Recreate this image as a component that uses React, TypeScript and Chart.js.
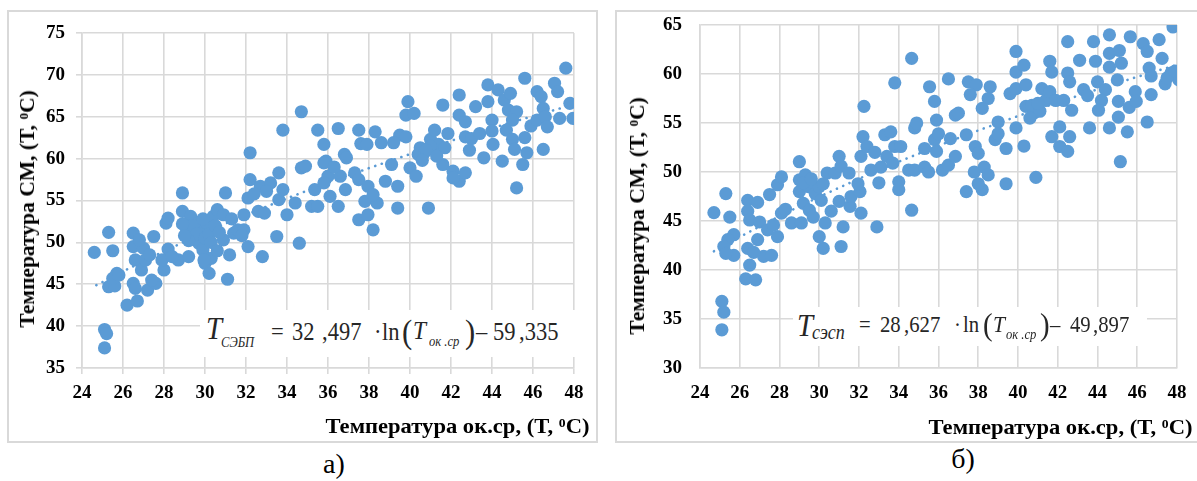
import React, { useEffect, useRef } from "react";
import { Chart, registerables } from "chart.js";

Chart.register(...registerables);

// ---------- data ----------
const xTicks = [24, 26, 28, 30, 32, 34, 36, 38, 40, 42, 44, 46, 48];
const aYTicks = [35, 40, 45, 50, 55, 60, 65, 70, 75];
const bYTicks = [30, 35, 40, 45, 50, 55, 60, 65];

// chart а) : ambient temperature vs СЭБП temperature
const aTemp = [
  24.6, 25.3, 25.5, 25.1, 25.2, 25.1, 25.3, 25.6, 25.7, 25.5, 25.8, 26.2, 26.7, 26.5, 26.5, 26.6, 26.5, 26.6, 26.9, 27.1,
  27.5, 27.2, 27.6, 27.4, 28.0, 28.1, 28.2, 28.2, 27.9, 28.7, 29.2, 28.9, 28.9, 29.1, 29.3, 29.7, 29.8, 29.5, 29.7, 29.9,
  30.0, 30.2, 30.3, 29.95, 30.1, 30.4, 30.6, 30.9, 30.9, 31.1, 31.2, 31.0, 31.4, 31.6, 31.9, 32.1, 31.9, 32.1, 32.2, 32.2,
  32.6, 32.9, 32.8, 32.7, 33.2, 33.5, 33.6, 33.6, 33.8, 34.0, 33.8, 34.4, 34.6, 34.7, 34.9, 34.7, 35.2, 35.35, 35.5, 35.5,
  35.8, 35.9, 29.4, 29.6, 30.0, 30.2, 30.5, 29.9, 30.3, 29.2, 28.9, 29.0, 30.7, 27.0, 26.8, 27.3, 28.4, 31.3, 32.4, 33.0,
  31.8, 30.6, 35.8, 36.0, 35.8, 36.1, 36.5, 36.6, 36.85, 36.5, 36.8, 36.9, 37.5, 37.6, 37.9, 38.3, 38.6, 37.3, 37.5, 37.95,
  37.8, 38.4, 38.2, 37.5, 37.95, 38.2, 39.1, 38.8, 39.4, 39.4, 39.9, 39.8, 40.2, 39.5, 39.8, 40.0, 40.3, 40.5, 40.9, 40.4,
  40.7, 41.0, 41.2, 41.6, 41.4, 41.7, 41.85, 41.6, 42.1, 42.4, 42.1, 42.4, 42.4, 42.7, 43.2, 42.7, 43.0, 43.4, 43.6, 42.7,
  43.8, 43.8, 44.0, 44.0, 44.05, 44.5, 44.3, 44.6, 44.9, 44.8, 45.2, 45.0, 44.7, 45.0, 45.1, 45.2, 45.6, 45.6, 45.7, 45.5,
  45.9, 46.2, 46.2, 46.4, 46.5, 46.6, 46.7, 46.5, 47.05, 47.2, 47.3, 47.6, 47.8, 47.95, 41.0, 40.8, 41.3, 42.9, 39.2, 36.3,
  40.6,
];
const aSM = [
  48.8, 51.2, 49.0, 39.6, 39.1, 37.4, 44.7, 44.8, 46.3, 45.7, 46.1, 42.5, 43.0, 51.1, 49.5, 47.9, 45.1, 44.5, 46.7, 47.9,
  50.7, 44.3, 45.1, 45.5, 46.7, 52.3, 52.9, 49.2, 47.9, 47.9, 48.3, 55.9, 53.7, 51.5, 53.1, 52.3, 51.5, 50.7, 49.9, 49.1,
  47.5, 46.3, 48.1, 47.9, 52.3, 53.1, 53.9, 53.3, 50.3, 45.6, 48.5, 55.9, 51.1, 51.5, 51.5, 49.5, 53.3, 55.3, 57.5, 60.7,
  53.7, 53.5, 48.3, 56.7, 57.1, 50.7, 58.3, 55.1, 56.3, 53.3, 63.4, 54.7, 49.9, 58.9, 59.1, 65.6, 54.3, 56.3, 54.3, 63.4,
  61.7, 59.7, 52.0, 51.0, 50.5, 51.0, 52.0, 52.8, 50.0, 50.2, 52.2, 50.8, 51.2, 49.3, 50.3, 48.5, 48.3, 52.8, 55.8, 56.1,
  50.8, 49.0, 59.5, 57.9, 57.1, 55.5, 54.3, 57.9, 56.3, 63.6, 60.5, 60.1, 63.4, 61.8, 61.7, 63.2, 61.9, 58.3, 57.5, 56.7,
  54.9, 54.7, 55.7, 52.7, 53.3, 51.5, 59.3, 57.3, 56.7, 54.1, 66.8, 65.2, 65.4, 62.8, 62.6, 58.9, 57.9, 61.3, 54.1, 60.5,
  60.7, 62.3, 63.4, 66.4, 61.7, 61.3, 63.0, 59.3, 58.5, 57.3, 57.7, 67.6, 65.2, 64.4, 66.2, 62.6, 62.4, 63.0, 60.1, 58.3,
  68.8, 66.8, 64.6, 63.3, 61.7, 59.7, 68.2, 67.0, 67.8, 65.8, 65.6, 64.6, 63.4, 62.3, 61.1, 56.5, 69.6, 62.5, 60.7, 59.3,
  63.9, 64.6, 68.0, 67.4, 66.0, 65.0, 63.8, 61.1, 69.0, 68.0, 64.8, 70.8, 66.6, 64.8, 61.5, 61.0, 60.3, 61.0, 61.9, 59.0,
  59.8,
];

// chart б) : ambient temperature vs СЭСП temperature
const bTemp = [
  24.7, 25.3, 25.5, 25.7, 25.4, 25.2, 25.7, 25.3, 25.1, 25.2, 25.1, 26.3, 26.8, 26.5, 26.4, 26.9, 26.4, 26.5, 27.0, 27.4,
  26.9, 26.4, 27.2, 27.6, 27.5, 27.9, 28.1, 28.1, 28.6, 27.9, 29.0, 29.0, 29.3, 29.0, 29.2, 29.1, 29.5, 29.7, 29.45, 29.8,
  30.0, 30.1, 30.4, 30.3, 30.0, 30.2, 30.8, 31.0, 31.1, 31.5, 31.0, 31.2, 31.1, 31.55, 31.6, 32.05, 32.1, 31.95, 32.25, 32.2,
  32.1, 32.4, 32.6, 32.9, 33.0, 33.3, 33.6, 33.4, 33.7, 33.8, 34.0, 34.0, 34.1, 33.8, 34.65, 34.65, 34.8, 34.9, 34.5, 34.8,
  35.3, 35.5, 35.3, 35.55, 35.8, 35.9, 35.8, 35.9, 29.2, 29.6, 30.2, 28.3, 27.7, 26.7, 30.6, 32.8, 33.1, 36.0, 36.2, 36.5,
  36.85, 36.6, 36.85, 37.0, 36.5, 37.5, 37.9, 37.6, 38.6, 38.5, 38.2, 39.0, 38.85, 39.4, 39.0, 37.4, 37.85, 38.0, 37.8, 38.3,
  38.5, 37.4, 38.2, 38.0, 39.4, 40.3, 40.9, 39.9, 39.9, 39.9, 40.3, 39.6, 39.9, 40.4, 40.4, 40.8, 40.7, 41.2, 41.4, 41.1,
  41.6, 41.7, 41.6, 41.9, 42.1, 41.7, 42.1, 42.5, 42.5, 42.5, 42.6, 42.3, 42.7, 42.6, 43.1, 43.3, 43.6, 43.8, 43.9, 44.0,
  44.4, 44.6, 44.6, 44.2, 44.05, 44.6, 44.6, 45.1, 45.2, 45.0, 45.15, 45.05, 45.05, 45.6, 45.5, 45.65, 45.9, 45.95, 46.3, 46.5,
  46.6, 46.7, 46.5, 46.7, 47.1, 47.25, 47.4, 47.7, 47.8, 48.1, 41.0, 40.6, 43.5, 47.5, 47.9,
];
const bSM = [
  45.85, 47.8, 45.4, 43.6, 43.1, 42.4, 41.5, 41.7, 36.8, 35.7, 33.9, 39.1, 39.0, 40.5, 47.1, 46.9, 46.0, 45.1, 44.9, 44.1,
  43.1, 42.2, 41.4, 41.5, 47.7, 48.7, 49.5, 45.8, 44.8, 43.4, 51.05, 49.2, 49.7, 48.0, 46.8, 44.8, 46.1, 45.4, 48.5, 47.8,
  48.5, 47.1, 49.9, 44.8, 43.4, 42.2, 49.9, 51.6, 50.6, 49.9, 47.0, 44.4, 42.4, 46.5, 47.5, 48.0, 45.8, 48.8, 56.7, 53.6,
  51.6, 52.6, 50.2, 44.4, 48.9, 53.8, 54.1, 51.6, 50.9, 52.6, 49.0, 48.2, 52.6, 59.1, 61.6, 46.1, 54.5, 55.0, 50.2, 50.2,
  50.5, 50.0, 52.4, 58.7, 57.2, 55.3, 53.3, 52.1, 48.9, 49.3, 48.8, 46.2, 44.6, 41.8, 46.0, 52.0, 50.5, 53.9, 50.2, 50.7,
  51.6, 53.4, 55.8, 56.0, 59.5, 59.2, 58.9, 57.9, 58.7, 57.5, 56.5, 55.1, 53.3, 52.4, 53.9, 53.8, 52.6, 51.9, 50.0, 50.5,
  49.7, 48.0, 48.2, 48.8, 48.8, 52.65, 49.45, 54.5, 62.3, 60.2, 60.9, 58.0, 58.5, 58.9, 56.7, 56.0, 56.8, 58.5, 57.3, 56.2,
  61.3, 60.2, 58.2, 57.3, 54.6, 53.6, 52.6, 52.1, 63.3, 60.1, 59.2, 57.3, 56.3, 53.6, 61.4, 58.4, 54.5, 63.3, 61.3, 59.2,
  58.4, 62.1, 64.0, 57.3, 56.3, 54.5, 60.7, 62.4, 61.1, 59.4, 51.05, 57.2, 55.6, 56.6, 54.1, 63.8, 58.2, 57.2, 63.1, 62.3,
  60.6, 59.8, 55.1, 57.9, 63.5, 61.6, 59.0, 60.1, 64.8, 59.4, 57.0, 55.5, 57.8, 59.6, 60.3,
];

// logarithmic trend lines (dotted)
const trendTemp = [24.7, 26, 28, 30, 32, 34, 36, 38, 40, 42, 44, 46, 48];
const aTrend = [44.88, 46.54, 48.95, 51.19, 53.29, 55.26, 57.12, 58.87, 60.54, 62.13, 63.64, 65.08, 66.47];
const bTrend = [41.91, 43.37, 45.5, 47.47, 49.32, 51.05, 52.69, 54.24, 55.71, 57.1, 58.43, 59.71, 60.93];

// ---------- presentation ----------
const BLUE = "#5B9BD5";
const GRID = "#d9d9d9";
const SERIF = "'Liberation Serif', 'Times New Roman', 'DejaVu Serif', serif";

type PanelProps = {
  temp: number[];
  sm: number[];
  trend: number[];
  yTicks: number[];
  left: number;
  top: number;
  width: number;
  height: number;
  yAxisWidth: number;
  xAxisHeight: number;
  padTop: number;
  padRight: number;
  tickLen: number;
  yPad: number;
  xPad: number;
};

function ScatterPanel(p: PanelProps) {
  const ref = useRef<HTMLCanvasElement | null>(null);
  useEffect(() => {
    if (!ref.current) return;
    const tickFont = { family: SERIF, size: 19, weight: "bold" as const };
    const chart = new Chart(ref.current, {
      type: "scatter",
      data: {
        datasets: [
          {
            data: p.temp.map((x, i) => ({ x, y: p.sm[i] })),
            backgroundColor: BLUE,
            borderColor: BLUE,
            pointRadius: 6.6,
            pointBorderWidth: 0,
            pointHoverRadius: 6.6,
          },
          {
            data: trendTemp.map((x, i) => ({ x, y: p.trend[i] })),
            showLine: true,
            borderColor: BLUE,
            borderWidth: 2.6,
            borderDash: [0.1, 6.8],
            borderCapStyle: "round",
            pointRadius: 0,
            fill: false,
          } as any,
        ],
      },
      options: {
        animation: false,
        responsive: false,
        devicePixelRatio: 1,
        layout: { padding: { top: p.padTop, right: p.padRight, left: 0, bottom: 0 } },
        plugins: { legend: { display: false }, tooltip: { enabled: false } },
        scales: {
          x: {
            type: "linear",
            min: xTicks[0],
            max: xTicks[xTicks.length - 1],
            afterBuildTicks: (s: any) => {
              s.ticks = xTicks.map((v) => ({ value: v }));
            },
            afterFit: (s: any) => {
              s.height = p.xAxisHeight;
              s.paddingLeft = 0;
              s.paddingRight = 0;
            },
            grid: { color: GRID, lineWidth: 1.6, drawTicks: p.tickLen > 0, tickLength: p.tickLen },
            border: { color: GRID, width: 1.6 },
            ticks: { font: tickFont, color: "#000", padding: p.xPad, maxRotation: 0, autoSkip: false },
          },
          y: {
            type: "linear",
            min: p.yTicks[0],
            max: p.yTicks[p.yTicks.length - 1],
            afterBuildTicks: (s: any) => {
              s.ticks = p.yTicks.map((v) => ({ value: v }));
            },
            afterFit: (s: any) => {
              s.width = p.yAxisWidth;
              s.paddingTop = 0;
              s.paddingBottom = 0;
            },
            grid: { color: GRID, lineWidth: 1.6, drawTicks: p.tickLen > 0, tickLength: p.tickLen },
            border: { color: GRID, width: 1.6 },
            ticks: { font: tickFont, color: "#000", padding: p.yPad, autoSkip: false },
          },
        },
      },
    });
    return () => chart.destroy();
  }, []);
  return (
    <canvas
      ref={ref}
      width={p.width}
      height={p.height}
      style={{ position: "absolute", left: p.left, top: p.top, width: p.width, height: p.height }}
    />
  );
}

const titleStyle: React.CSSProperties = {
  position: "absolute",
  fontFamily: SERIF,
  fontWeight: "bold",
  fontSize: 21.5,
  color: "#000",
  whiteSpace: "nowrap",
  lineHeight: "24px",
};

function Deg() {
  return <sup style={{ fontSize: 13, verticalAlign: "top", position: "relative", top: -3 }}>0</sup>;
}

// a piece of the regression equation: [text, x, baseline, size, italic]
type Piece = [string, number, number, number, boolean];

function Equation(props: { left: number; top: number; width: number; height: number; pieces: Piece[] }) {
  return (
    <div
      style={{
        position: "absolute",
        left: props.left,
        top: props.top,
        width: props.width,
        height: props.height,
        background: "#fff",
      }}
    >
      {props.pieces.map(([t, x, base, size, it], i) => (
        <span
          key={i}
          style={{
            position: "absolute",
            left: x - props.left,
            top: base - props.top - size * 0.8375,
            fontFamily: SERIF,
            fontSize: size,
            lineHeight: size + "px",
            fontStyle: it ? "italic" : "normal",
            color: "#262626",
            whiteSpace: "pre",
            transform: "scaleX(0.9)",
            transformOrigin: "left center",
          }}
        >
          {t}
        </span>
      ))}
    </div>
  );
}

const eqA: Piece[] = [
  ["T", 206, 339, 32, true],
  ["СЭБП", 221, 348, 14, true],
  ["=", 271, 340, 25, false],
  ["32", 292, 340, 25, false],
  [",497", 322, 340, 25, false],
  ["\u00B7", 374, 340, 25, false],
  ["ln", 382, 340, 25, false],
  ["(", 402, 343, 34, false],
  ["T", 413, 340, 26, true],
  ["ок .ср", 429, 347, 14, true],
  [")", 465, 343, 34, false],
  ["\u2013", 476, 340, 25, false],
  ["59", 493, 340, 25, false],
  [",335", 519, 340, 25, false],
];

const eqB: Piece[] = [
  ["T", 797, 336, 32, true],
  ["сэсп", 812, 339, 20, true],
  ["=", 859, 332, 23, false],
  ["28", 880, 332, 23, false],
  [",627", 904, 332, 23, false],
  ["\u00B7", 954, 332, 23, false],
  ["ln", 963, 332, 23, false],
  ["(", 983, 335, 32, false],
  ["T", 993, 332, 24, true],
  ["ок .ср", 1006, 340, 14, true],
  [")", 1040, 335, 32, false],
  ["\u2013", 1050, 332, 23, false],
  ["49", 1070, 332, 23, false],
  [",897", 1093, 332, 23, false],
];

export default function App() {
  return (
    <div
      style={{
        position: "absolute",
        left: 0,
        top: 0,
        width: 1197,
        height: 481,
        overflow: "hidden",
        background: "#fff",
      }}
    >
      {/* frames */}
      <div
        style={{
          position: "absolute",
          left: 7,
          top: 10,
          width: 591,
          height: 433,
          border: "2px solid " + GRID,
          boxSizing: "border-box",
        }}
      />
      <div
        style={{
          position: "absolute",
          left: 615,
          top: 10,
          width: 600,
          height: 433,
          border: "2px solid " + GRID,
          boxSizing: "border-box",
        }}
      />

      <ScatterPanel
        temp={aTemp}
        sm={aSM}
        trend={aTrend}
        yTicks={aYTicks}
        left={9}
        top={12}
        width={587}
        height={428}
        yAxisWidth={73}
        xAxisHeight={72}
        padTop={21}
        padRight={22}
        tickLen={6}
        yPad={11}
        xPad={8}
      />
      <ScatterPanel
        temp={bTemp}
        sm={bSM}
        trend={bTrend}
        yTicks={bYTicks}
        left={617}
        top={12}
        width={580}
        height={428}
        yAxisWidth={83}
        xAxisHeight={72}
        padTop={13}
        padRight={20}
        tickLen={0}
        yPad={18}
        xPad={14}
      />

      <Equation left={200} top={310} width={377} height={47} pieces={eqA} />
      <Equation left={793} top={307} width={354} height={39} pieces={eqB} />

      {/* axis titles */}
      <div style={{ ...titleStyle, right: 1197 - 590, top: 414, transform: "scaleX(1.05)", transformOrigin: "right center" }}>
        Температура ок.ср, (T, <Deg />C)
      </div>
      <div style={{ ...titleStyle, right: 1197 - 1193, top: 415, transform: "scaleX(1.05)", transformOrigin: "right center" }}>
        Температура ок.ср, (T, <Deg />C)
      </div>
      <div
        style={{
          ...titleStyle,
          left: 27,
          top: 209,
          transform: "translate(-50%, -50%) rotate(-90deg)",
        }}
      >
        Температура СМ, (T, <Deg />C)
      </div>
      <div
        style={{
          ...titleStyle,
          left: 637,
          top: 216,
          transform: "translate(-50%, -50%) rotate(-90deg)",
        }}
      >
        Температура СМ, (T, <Deg />C)
      </div>

      {/* captions */}
      <div
        style={{
          position: "absolute",
          left: 334,
          top: 464,
          transform: "translate(-50%, -50%)",
          fontFamily: SERIF,
          fontSize: 28,
          color: "#000",
        }}
      >
        а)
      </div>
      <div
        style={{
          position: "absolute",
          left: 963,
          top: 459,
          transform: "translate(-50%, -50%)",
          fontFamily: SERIF,
          fontSize: 28,
          color: "#000",
        }}
      >
        б)
      </div>
    </div>
  );
}
